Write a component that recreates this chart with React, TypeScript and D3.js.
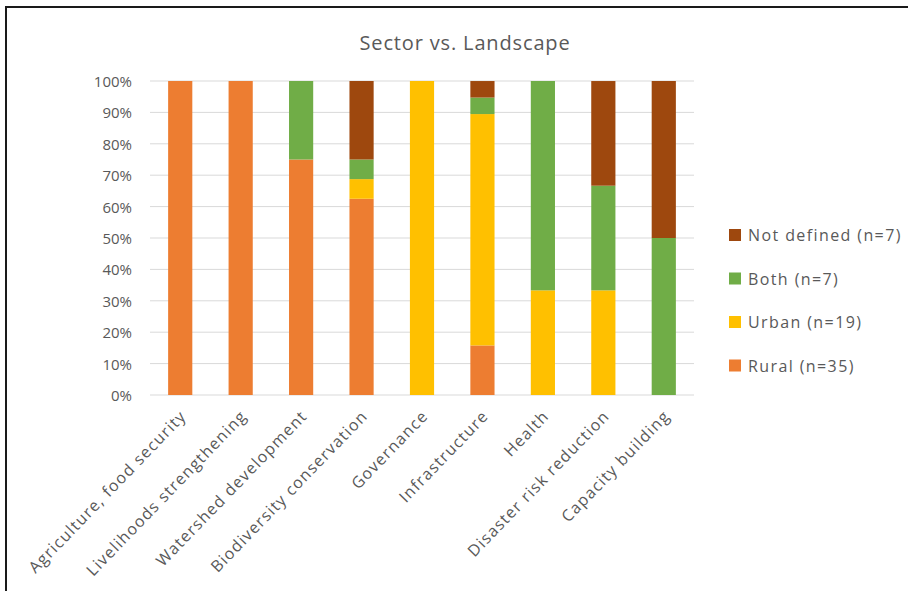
import React from "react";
import * as d3 from "d3";

const categories = [
  "Agriculture, food security",
  "Livelihoods strengthening",
  "Watershed development",
  "Biodiversity conservation",
  "Governance",
  "Infrastructure",
  "Health",
  "Disaster risk reduction",
  "Capacity building",
];
const rural = [100, 100, 75, 62.5, 0, 15.79, 0, 0, 0];
const urban = [0, 0, 0, 6.25, 100, 73.68, 33.33, 33.33, 0];
const both = [0, 0, 25, 6.25, 0, 5.26, 66.67, 33.33, 50];
const notDefined = [0, 0, 0, 25, 0, 5.26, 0, 33.33, 50];
const seriesNames = ["Rural (n=35)", "Urban (n=19)", "Both (n=7)", "Not defined (n=7)"];
const seriesColors = ["#ED7D31", "#FFC000", "#70AD47", "#9E480E"];
const yTicks = [0, 10, 20, 30, 40, 50, 60, 70, 80, 90, 100];

const W = 908;
const H = 591;
const FONT = "'Open Sans', sans-serif";

export default function App() {
  const x = d3.scaleBand().domain(categories).range([150, 694]).paddingInner(0.6).paddingOuter(0.3);
  const y = d3.scaleLinear().domain([0, 100]).range([395, 81]);
  const rows = categories.map((c, i) => ({ cat: c, r: rural[i], u: urban[i], b: both[i], n: notDefined[i] }));
  const stack = d3.stack<any>().keys(["r", "u", "b", "n"])(rows);
  const legendOrder = [3, 2, 1, 0];
  return (
    <svg width={W} height={H} style={{ position: "absolute", left: 0, top: 0 }}>
      <rect x={0} y={0} width={W} height={H} fill="#fff" />
      <rect x={6} y={7} width={W + 10} height={H + 10} fill="#fff" stroke="#1a1a1a" strokeWidth={2} />
      <text x={465} y={50} textAnchor="middle" fontFamily={FONT} fontSize={20} letterSpacing={0.85} fill="#595959">
        Sector vs. Landscape
      </text>
      {yTicks.map((t) => (
        <g key={t}>
          <line x1={150} x2={694} y1={y(t)} y2={y(t)} stroke="#d9d9d9" strokeWidth={1} />
          <text x={132} y={y(t) + 6} textAnchor="end" fontFamily={FONT} fontSize={15} fill="#595959">
            {t}%
          </text>
        </g>
      ))}
      {stack.map((s, si) => (
        <g key={si} fill={seriesColors[si]}>
          {s.map((d, i) =>
            d[1] - d[0] > 0 ? (
              <rect
                key={i}
                x={x(categories[i])!}
                width={x.bandwidth()}
                y={y(d[1])}
                height={y(d[0]) - y(d[1])}
              />
            ) : null
          )}
        </g>
      ))}
      {categories.map((c) => {
        const cx = x(c)! + x.bandwidth() / 2 + 7;
        return (
          <text
            key={c}
            transform={`translate(${cx},${417}) rotate(-46)`}
            textAnchor="end"
            fontFamily={FONT}
            fontSize={16}
            letterSpacing={1.2}
            fill="#595959"
          >
            {c}
          </text>
        );
      })}
      {legendOrder.map((si, k) => (
        <g key={si} transform={`translate(729,${229 + k * 43.5})`}>
          <rect x={0} y={0} width={12} height={12} fill={seriesColors[si]} />
          <text x={19} y={12} fontFamily={FONT} fontSize={16} fill="#595959" letterSpacing={1.4}>
            {seriesNames[si]}
          </text>
        </g>
      ))}
    </svg>
  );
}
